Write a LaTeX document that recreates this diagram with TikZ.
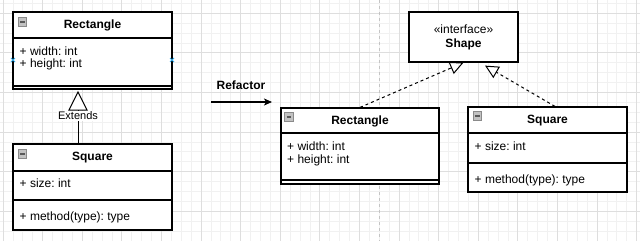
\documentclass[tikz,border=0pt]{standalone}
\usepackage{fontspec}
\setmainfont{Liberation Sans}
\usetikzlibrary{arrows.meta}
\frenchspacing

\definecolor{gridminor}{HTML}{F1F1F1}
\definecolor{gridmajor}{HTML}{DEDEDE}
\definecolor{splitline}{HTML}{C4C4C4}
\definecolor{pinblue}{HTML}{2FA8E8}
\definecolor{togglefill}{HTML}{C2C2C2}
\definecolor{toggleedge}{HTML}{8A8A8A}

\tikzset{
  classbox/.style={draw=black, line width=1.2pt, fill=white, inner sep=0pt},
  compartment/.style={draw=black, line width=1.2pt},
  classtitle/.style={font=\bfseries\fontsize{12}{14}\selectfont, inner sep=0pt},
  member/.style={font=\fontsize{12}{14}\selectfont, anchor=west, inner sep=0pt},
  plainlabel/.style={font=\fontsize{12}{14}\selectfont, inner sep=0pt},
  realize/.style={draw=black, line width=1pt, dash pattern=on 3pt off 3pt,
    -{Triangle[open, length=13.5pt, width=13pt, line width=1pt]}},
  extendtip/.style={draw=black, line width=1pt, fill=white, line join=miter},
  toggle/.style={rectangle, minimum size=8.5pt, inner sep=0pt, fill=togglefill,
    draw=toggleedge, line width=0.6pt,
    path picture={\draw[line width=1.1pt, color=black!65]
      ([xshift=1.8pt]path picture bounding box.west) --
      ([xshift=-1.8pt]path picture bounding box.east);}},
  pin/.style={draw=pinblue, line width=1pt},
}

\begin{document}
\begin{tikzpicture}[x=1pt, y=-1pt]
  \useasboundingbox (0,0) rectangle (640,241);
  \fill[white] (0,0) rectangle (640,241);

  % background grid
  \foreach \i in {0,...,64}
    \draw[gridminor, line width=0.8pt] ({3+9.9*\i},0) -- ({3+9.9*\i},241);
  \foreach \j in {0,...,24}
    \draw[gridminor, line width=0.8pt] (0,{3.3+9.9*\j}) -- (640,{3.3+9.9*\j});
  \foreach \i in {0,...,16}
    \draw[gridmajor, line width=0.8pt] ({3+39.6*\i},0) -- ({3+39.6*\i},241);
  \foreach \j in {0,...,5}
    \draw[gridmajor, line width=0.8pt] (0,{13.2+39.6*\j}) -- (640,{13.2+39.6*\j});

  % split between the two designs
  \draw[splitline, line width=1pt, dash pattern=on 3pt off 3pt] (379,0) -- (379,241);

  % ---- before: Square extends Rectangle ----
  \node[classbox, minimum width=159pt, minimum height=77pt] (rectA) at (92.5,50.5) {};
  \draw[compartment] (13,38) -- (172,38);
  \draw[compartment] (13,86) -- (172,86);
  \node[toggle] (rectAtoggle) at (22.5,22) {};
  \node[classtitle] (rectAname) at (92.5,25) {Rectangle};
  \node[member] (rectAw) at (19.5,51) {+ width: int};
  \node[member] (rectAh) at (19.5,64) {+ height: int};
  \draw[pin] (11,58) -- (15,62) (11,62) -- (15,58);
  \draw[pin] (170,58) -- (174,62) (170,62) -- (174,58);

  \node[classbox, minimum width=159pt, minimum height=86pt] (sqA) at (92.5,187) {};
  \draw[compartment] (13,171) -- (172,171);
  \draw[compartment] (13,200) -- (172,200);
  \node[toggle] (sqAtoggle) at (22.5,154) {};
  \node[classtitle] (sqAname) at (92.5,158) {Square};
  \node[member] (sqAsize) at (19.5,183) {+ size: int};
  \node[member] (sqAmeth) at (19.5,217) {+ method(type): type};

  \coordinate (extTip) at (78,92);
  \coordinate (extBase) at (78,110);
  \draw[line width=1pt] (sqA.north -| extBase) -- (extBase);
  \draw[extendtip] (extTip) -- (69,110) -- (87,110) -- cycle;
  \node[font=\fontsize{11}{13}\selectfont, fill=white, inner sep=1pt] (extLabel) at (78,116) {Extends};

  % ---- refactor step ----
  \coordinate (refFrom) at (211,102);
  \coordinate (refTo) at (272,102);
  \draw[line width=1.2pt, -{Stealth[length=8pt, width=7pt, inset=2pt]}] (refFrom) -- (refTo);
  \node[classtitle] (refLabel) at (241,85) {Refactor};

  % ---- after: both implement Shape ----
  \node[classbox, minimum width=109pt, minimum height=50pt] (shape) at (463.5,37) {};
  \node[plainlabel] (shapeStereo) at (463.5,29) {«interface»};
  \node[classtitle] (shapeName) at (463.5,44) {Shape};

  \node[classbox, minimum width=158pt, minimum height=76pt] (rectB) at (360,146) {};
  \draw[compartment] (281,133) -- (439,133);
  \draw[compartment] (281,180) -- (439,180);
  \node[toggle] (rectBtoggle) at (289,117) {};
  \node[classtitle] (rectBname) at (360,121) {Rectangle};
  \node[member] (rectBw) at (287,146) {+ width: int};
  \node[member] (rectBh) at (287,160) {+ height: int};

  \node[classbox, minimum width=159pt, minimum height=85pt] (sqB) at (547.5,149.5) {};
  \draw[compartment] (468,133) -- (627,133);
  \draw[compartment] (468,163) -- (627,163);
  \node[toggle] (sqBtoggle) at (477.5,116) {};
  \node[classtitle] (sqBname) at (547.5,121) {Square};
  \node[member] (sqBsize) at (474.5,146) {+ size: int};
  \node[member] (sqBmeth) at (474.5,180) {+ method(type): type};

  \draw[realize] (rectB.north) -- (shape.south);
  \draw[realize] ([xshift=7.5pt]sqB.north) -- ([xshift=21.5pt, yshift=-3pt]shape.south);
\end{tikzpicture}
\end{document}
